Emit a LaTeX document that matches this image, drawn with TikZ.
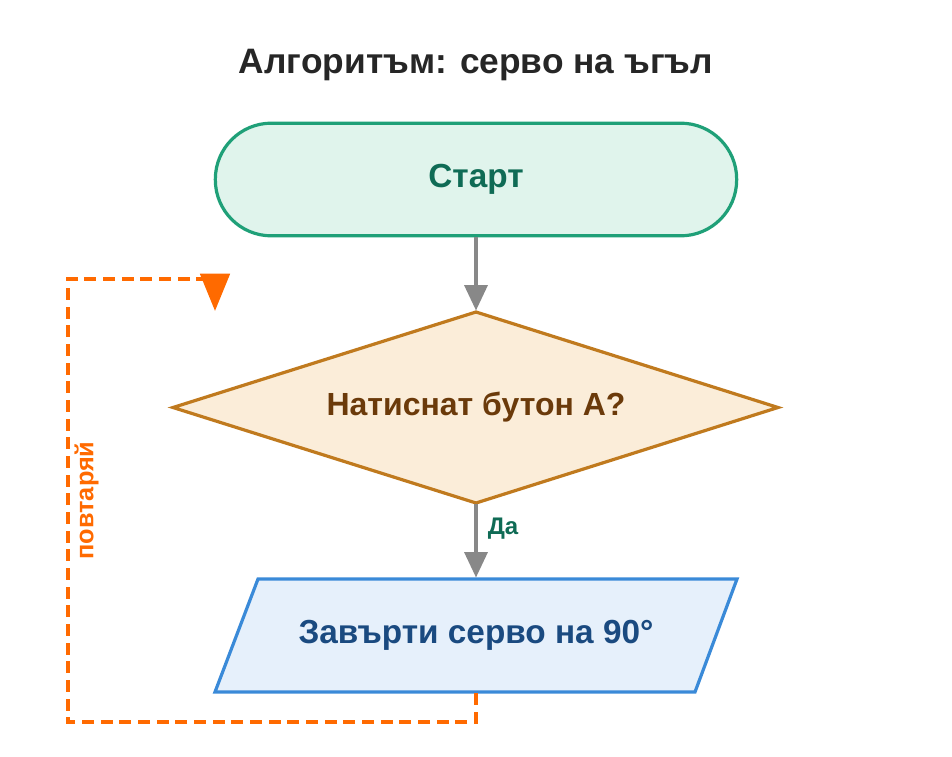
\documentclass[tikz,border=0pt]{standalone}
\usepackage{fontspec}
\setmainfont{Liberation Sans}
\usetikzlibrary{arrows.meta,positioning,shapes.geometric}
\definecolor{startfill}{HTML}{E0F4EC}
\definecolor{startline}{HTML}{1FA078}
\definecolor{starttext}{HTML}{0F6B55}
\definecolor{decfill}{HTML}{FBEDD9}
\definecolor{decline}{HTML}{C07A1E}
\definecolor{dectext}{HTML}{6B3A0A}
\definecolor{iofill}{HTML}{E6F0FB}
\definecolor{ioline}{HTML}{3A8AD8}
\definecolor{iotext}{HTML}{1A4A80}
\definecolor{loopcol}{HTML}{FF6A00}
\definecolor{arrcol}{HTML}{888888}
\tikzset{
       arr/.style = {-{Triangle[length=19pt,width=17pt]}, line width=3pt, draw=arrcol},
      base/.style = {line width=2.4pt, font=\bfseries\fontsize{25}{30}\selectfont, align=center},
 startstop/.style = {base, draw, rounded corners=42pt, minimum width=391pt, minimum height=84.5pt,
                     fill=startfill, draw=startline, text=starttext},
  decision/.style = {base, minimum width=454pt, minimum height=143pt, inner sep=0pt,
                     text=dectext, font=\bfseries\fontsize{24}{28}\selectfont},
        io/.style = {base, minimum width=391pt, minimum height=84.5pt, text=iotext},
      loop/.style = {draw=loopcol, line width=3pt, dash pattern=on 9pt off 5pt},
}
\begin{document}
\begin{tikzpicture}[x=0.75pt,y=-0.75pt]
\useasboundingbox (0,0) rectangle (952,756);
\node[font=\bfseries\fontsize{26.5}{30}\selectfont, text=black!85] (title) at (476,65) {Алгоритъм: серво на ъгъл};
\node[startstop] (start) at (476,179.5) {Старт};
% diamond and parallelogram drawn round their nodes
\fill[decfill] (173,407.5) -- (476,312) -- (778,407.5) -- (476,503) -- cycle;
\draw[decline, line width=2.4pt] (173,407.5) -- (476,312) -- (778,407.5) -- (476,503) -- cycle;
\node[decision] (dec) at (476,407.5) {Натиснат бутон A?};
\fill[iofill] (258,579) -- (737,579) -- (695,692) -- (215,692) -- cycle;
\draw[ioline, line width=2.4pt] (258,579) -- (737,579) -- (695,692) -- (215,692) -- cycle;
\node[io] (act) at (476,635.5) {Завърти серво на 90°};
\draw[arr] (start) -- (dec.north);
\draw[arr] (dec.south) -- node[right, xshift=4pt, font=\bfseries\fontsize{18}{20}\selectfont, text=starttext, pos=0.33] (yes) {Да} (act.north);
\coordinate (c1) at (476,722);
\coordinate (c2) at (68,722);
\coordinate (c3) at (68,279);
\coordinate (c4) at (215,279);
\coordinate (c5) at (215,311);
\draw[loop] (act.south) -- (c1) -- (c2) -- node[pos=0.5, below, sloped, font=\bfseries\fontsize{19}{22}\selectfont, text=loopcol] (rep) {повтаряй} (c3) -- (c4);
\draw[draw=loopcol, line width=3pt, -{Triangle[length=28pt,width=22pt]}] (c4) -- (c5);
\end{tikzpicture}
\end{document}
